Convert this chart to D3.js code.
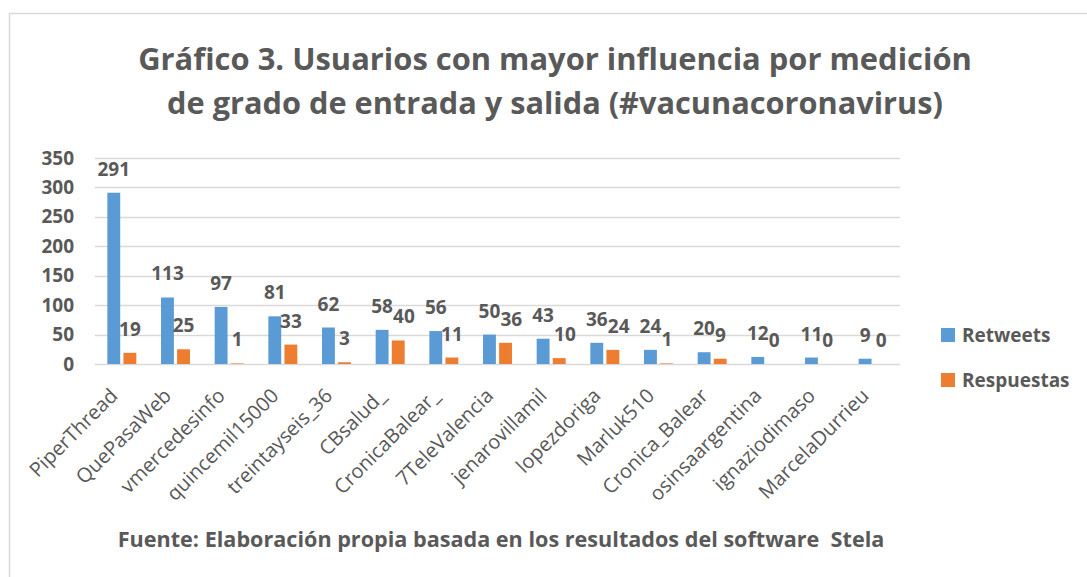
<!DOCTYPE html>
<html>
<head>
  <meta charset="utf-8">
  <title>Gráfico 3</title>
  <style>
    body { margin: 0; background: #fff; }
    text { font-family: "Open Sans", "DejaVu Sans", sans-serif; fill: #595959; }
  </style>
</head>
<body>
<script src="https://d3js.org/d3.v7.min.js"></script>
<svg id="chart" width="1087" height="577"></svg>

<script>
    var usuarios = ["PiperThread", "QuePasaWeb", "vmercedesinfo", "quincemil15000", "treintayseis_36",
                    "CBsalud_", "CronicaBalear_", "7TeleValencia", "jenarovillamil", "lopezdoriga",
                    "Marluk510", "Cronica_Balear", "osinsaargentina", "ignaziodimaso", "MarcelaDurrieu"];
    var retweets   = [291, 113, 97, 81, 62, 58, 56, 50, 43, 36, 24, 20, 12, 11, 9];
    var respuestas = [19, 25, 1, 33, 3, 40, 11, 36, 10, 24, 1, 9, 0, 0, 0];
    var series = ["Retweets", "Respuestas"];
    var yTicks = [0, 50, 100, 150, 200, 250, 300, 350];

    var color = d3.scaleOrdinal(series, ["#5b9bd5", "#ed7d31"]);
    var valores = { "Retweets": retweets, "Respuestas": respuestas };

    var svg = d3.select("#chart");

    // borde del gráfico (solo se ven arriba e izquierda)
    svg.append("rect")
        .attr("x", 9.5).attr("y", 13.5)
        .attr("width", 1100).attr("height", 600)
        .attr("fill", "none").attr("stroke", "#d9d9d9").attr("stroke-width", 1.5);

    // titulo, ajustado al ancho del original
    function fitText(sel, width) {
        var w = sel.node().getComputedTextLength();
        var fs = parseFloat(sel.style("font-size"));
        sel.style("font-size", (fs * width / w) + "px");
    }

    var t1 = svg.append("text").attr("x", 555).attr("y", 70)
        .attr("text-anchor", "middle").style("font-weight", "bold").style("font-size", "32px")
        .text("Gráfico 3. Usuarios con mayor influencia por medición");
    fitText(t1, 834);
    var t2 = svg.append("text").attr("x", 555).attr("y", 114)
        .attr("text-anchor", "middle").style("font-weight", "bold").style("font-size", "32px")
        .text("de grado de entrada y salida (#vacunacoronavirus)");
    fitText(t2, 776);

    // escalas
    var x0 = d3.scaleBand().domain(usuarios).range([95, 900])
                .paddingInner(0.46).paddingOuter(0.23);
    var x1 = d3.scaleBand().domain(series).range([0, x0.bandwidth()]).paddingInner(0.2);
    var y = d3.scaleLinear().domain([0, 350]).range([364, 158]);

    // rejilla
    svg.append("g")
        .selectAll("line")
        .data(yTicks)
        .enter()
        .append("line")
        .attr("x1", 95).attr("x2", 900)
        .attr("y1", function(d) { return Math.round(y(d)) + 0.5; })
        .attr("y2", function(d) { return Math.round(y(d)) + 0.5; })
        .attr("stroke", "#d9d9d9").attr("stroke-width", 1.5);

    // eje y
    var yAxis = svg.append("g")
        .attr("transform", "translate(74,0)")
        .call(d3.axisLeft(y).tickValues(yTicks).tickSize(0).tickPadding(0));
    yAxis.select(".domain").remove();
    yAxis.selectAll("text")
        .style("font-size", "19px").style("font-weight", "bold")
        .attr("fill", "#595959").attr("font-family", null);

    // eje x (etiquetas giradas)
    var xAxis = svg.append("g")
        .attr("transform", "translate(0,364)")
        .call(d3.axisBottom(x0).tickSize(0).tickPadding(0));
    xAxis.select(".domain").remove();
    xAxis.selectAll("text")
        .attr("font-family", null).attr("fill", "#595959")
        .style("font-size", "20px")
        .attr("text-anchor", "end")
        .attr("dy", null)
        .attr("y", 0)
        .attr("transform", "translate(-3,33) rotate(-45)");

    // barras
    var grupos = svg.append("g")
        .selectAll("g")
        .data(usuarios)
        .enter()
        .append("g")
        .attr("transform", function(d) { return "translate(" + x0(d) + ",0)"; });

    grupos.selectAll("rect")
        .data(function(d, i) { return series.map(function(s) { return { s: s, v: valores[s][i] }; }); })
        .enter()
        .append("rect")
        .attr("x", function(d) { return x1(d.s); })
        .attr("width", x1.bandwidth())
        .attr("y", function(d) { return y(d.v); })
        .attr("height", function(d) { return y(0) - y(d.v); })
        .attr("fill", function(d) { return color(d.s); });

    // etiquetas de datos
    var etiquetas = grupos.selectAll(".lbl")
        .data(function(d, i) { return series.map(function(s) { return { s: s, v: valores[s][i] }; }); })
        .enter()
        .append("text")
        .attr("class", "lbl")
        .attr("x", function(d) { return x1(d.s) + x1.bandwidth() / 2; })
        .attr("y", function(d) { return y(d.v) - 17; })
        .attr("text-anchor", "middle")
        .style("font-size", "19px").style("font-weight", "bold")
        .text(function(d) { return d.v; });

    // si se solapan, mover la etiqueta naranja a la derecha
    grupos.each(function() {
        var lbls = d3.select(this).selectAll(".lbl").nodes();
        var a = lbls[0].getBBox(), b = lbls[1].getBBox();
        var vOver = a.y < b.y + b.height - 4 && b.y < a.y + a.height - 4;
        var hOver = a.x + a.width - b.x;
        if (vOver && hOver > 0) {
            d3.select(lbls[1]).attr("x", +d3.select(lbls[1]).attr("x") + hOver);
        }
    });

    // leyenda
    var leyenda = svg.append("g")
        .selectAll("g")
        .data(series)
        .enter()
        .append("g")
        .attr("transform", function(d, i) { return "translate(941," + (328 + i * 45) + ")"; });
    leyenda.append("rect").attr("width", 14).attr("height", 14)
        .attr("fill", function(d) { return color(d); });
    leyenda.append("text").attr("x", 21).attr("y", 14)
        .style("font-size", "19px").style("font-weight", "bold")
        .text(function(d) { return d; });

    // fuente
    var f = svg.append("text").attr("x", 501).attr("y", 547)
        .attr("text-anchor", "middle")
        .style("font-size", "19px").style("font-weight", "bold").style("white-space", "pre")
        .text("Fuente: Elaboración propia basada en los resultados del software  Stela");
    fitText(f, 767);
</script>
</body>
</html>
